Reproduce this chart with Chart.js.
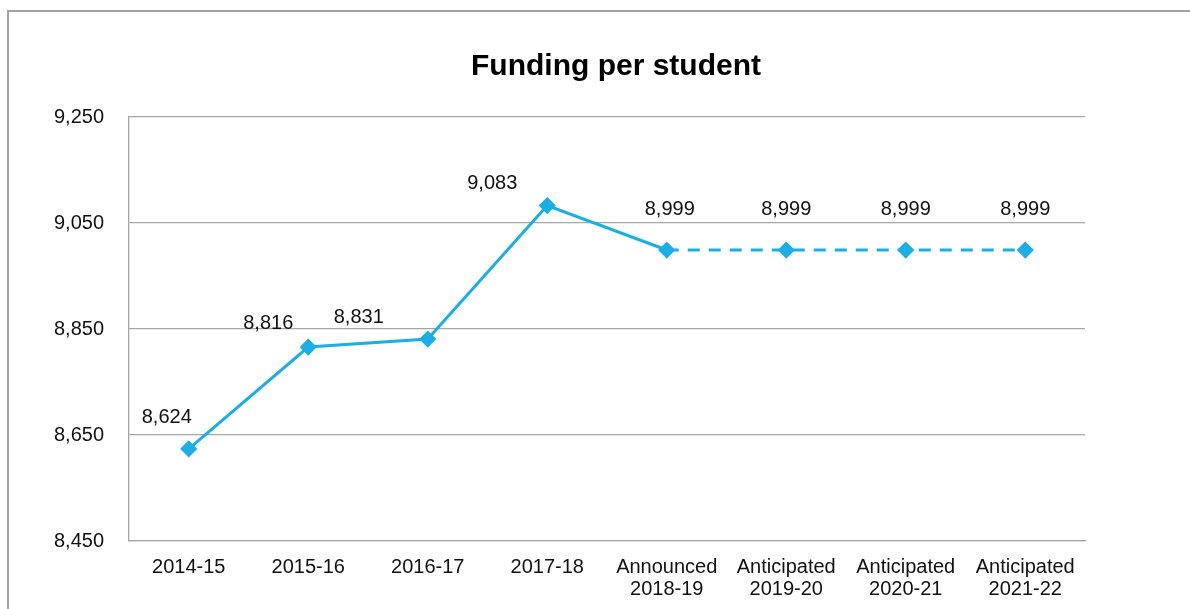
<!DOCTYPE html>
<html>
<head>
<meta charset="utf-8">
<script src="https://cdn.jsdelivr.net/npm/chart.js@4"></script>
<style>
  html, body { margin: 0; padding: 0; background: #fff; overflow: hidden; }
  #wrap { position: relative; width: 1190px; height: 609px; }
  #frame { position: absolute; left: 7px; top: 10px; width: 2000px; height: 2000px;
           border: 2px solid #a3a3a3; box-sizing: border-box; }
  canvas { position: absolute; left: 0; top: 0; }
</style>
</head>
<body>
<div id="wrap">
  <div id="frame"></div>
  <canvas id="fundChart" width="1190" height="609"></canvas>
</div>
<script>
const categories = [
  '2014-15', '2015-16', '2016-17', '2017-18',
  ['Announced', '2018-19'], ['Anticipated', '2019-20'],
  ['Anticipated', '2020-21'], ['Anticipated', '2021-22']
];
const funding = [8624, 8816, 8831, 9083, 8999, 8999, 8999, 8999];
const yMin = 8450;
const yMax = 9250;
const yStep = 200;

const blue = '#1aafe6';
const grey = '#a6a6a6';
const fontFam = '"Liberation Sans", Arial, sans-serif';

// where each value label sits relative to its point (as placed in the original)
const labelDx = [-22, -40, -69, -55, 3, 0, 0, 0];
const labelDy = [-31, -24, -22, -22, -41, -41, -41, -41];

const fmt = v => Number(v).toLocaleString('en-US');

const valueLabels = {
  id: 'valueLabels',
  afterDatasetsDraw(chart) {
    const ctx = chart.ctx;
    const meta = chart.getDatasetMeta(0);
    ctx.save();
    ctx.font = '20px ' + fontFam;
    ctx.fillStyle = '#111';
    ctx.textAlign = 'center';
    ctx.textBaseline = 'middle';
    meta.data.forEach((pt, i) => {
      ctx.fillText(fmt(funding[i]), pt.x + labelDx[i], pt.y + labelDy[i]);
    });
    ctx.restore();
  }
};

const bigTitle = {
  id: 'bigTitle',
  afterDraw(chart) {
    const ctx = chart.ctx;
    ctx.save();
    ctx.font = 'bold 30px ' + fontFam;
    ctx.fillStyle = '#000';
    ctx.textAlign = 'center';
    ctx.textBaseline = 'middle';
    ctx.fillText('Funding per student', 616, 67);
    ctx.restore();
  }
};

new Chart(document.getElementById('fundChart'), {
  type: 'line',
  data: {
    labels: categories,
    datasets: [{
      data: funding,
      borderColor: blue,
      backgroundColor: blue,
      borderWidth: 3,
      pointStyle: 'rectRot',
      pointRadius: 6.5,
      pointHoverRadius: 6.5,
      tension: 0,
      segment: {
        borderDash: c => c.p0DataIndex >= 4 ? [12, 9] : undefined
      }
    }]
  },
  options: {
    responsive: false,
    animation: false,
    layout: { padding: { top: 117, right: 105, bottom: 0, left: 0 } },
    plugins: {
      legend: { display: false },
      title: { display: false },
      tooltip: { enabled: false }
    },
    scales: {
      x: {
        offset: true,
        grid: { display: false, drawTicks: false },
        border: { display: true, color: grey, width: 1.3 },
        ticks: {
          color: '#111',
          font: { family: fontFam, size: 20, lineHeight: 1.1 },
          padding: 15,
          maxRotation: 0,
          autoSkip: false
        },
        afterFit: s => { s.height = 68; }
      },
      y: {
        min: yMin,
        max: yMax,
        grid: { color: grey, lineWidth: 1.3, drawTicks: false },
        border: { display: true, color: grey, width: 1.3 },
        ticks: {
          stepSize: yStep,
          color: '#111',
          padding: 25,
          font: { family: fontFam, size: 20 },
          callback: v => fmt(v)
        },
        afterFit: s => { s.width = 129; }
      }
    }
  },
  plugins: [valueLabels, bigTitle]
});
</script>
</body>
</html>
